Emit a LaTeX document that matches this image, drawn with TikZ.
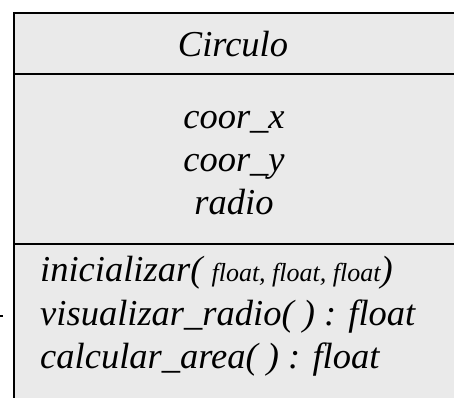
\documentclass[tikz,border=0pt]{standalone}
\usepackage{fontspec}
\setmainfont{Liberation Serif}[
  UprightFont={Liberation Serif},
  ItalicFont={Liberation Serif Italic}]
\begin{document}
\begin{tikzpicture}[x=1pt,y=1pt,
  member/.style={inner sep=0pt,anchor=base,font=\fontsize{36.5}{42}\selectfont\itshape},
  method/.style={member,anchor=base west}]
\definecolor{boxgray}{HTML}{EAEAEA}
\useasboundingbox (0,0) rectangle (454,-397);
\clip (0,0) rectangle (454,-397);
% class box, running past the right and bottom edges
\path[fill=boxgray] (14,-12.5) rectangle (470,-410);
\draw[line width=2pt] (470,-12.5) -- (14,-12.5) -- (14,-410);
\draw[line width=2pt] (14,-73.5) -- (470,-73.5);
\draw[line width=2pt] (14,-244) -- (470,-244);
% small stray mark at the left
\fill (0,-314.5) rectangle (2.5,-317);
% class name
\node[member] (name) at (233,-56) {Circulo};
% attributes
\node[member] (ax) at (234,-128) {coor\_x};
\node[member] (ay) at (234,-171) {coor\_y};
\node[member] (ar) at (234,-214) {radio};
% operations
\node[method] (m1) at (40,-281) {inicializar( {\fontsize{26}{30}\selectfont float, float, float})};
\node[method] (m2) at (40,-325) {visualizar\_radio( ) : float};
\node[method] (m3) at (40,-368) {calcular\_area( ) : float};
\end{tikzpicture}
\end{document}
